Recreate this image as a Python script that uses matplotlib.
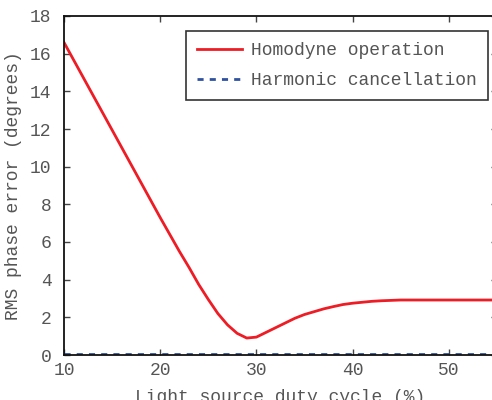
import matplotlib.pyplot as plt
import numpy as np

# duty cycle (%) and RMS phase error (degrees)
duty = np.arange(10, 56)
homodyne = np.array([16.6, 15.67, 14.74, 13.81, 12.88, 11.95, 11.02, 10.09, 9.16, 8.23,
                     7.3, 6.4, 5.5, 4.65, 3.75, 2.95, 2.2, 1.6, 1.15, 0.9,
                     0.95, 1.2, 1.45, 1.7, 1.95, 2.15, 2.3, 2.45, 2.57, 2.68,
                     2.75, 2.8, 2.85, 2.88, 2.9, 2.92, 2.92, 2.92, 2.92, 2.92,
                     2.92, 2.92, 2.92, 2.92, 2.92, 2.92])
harmonic = np.full(len(duty), 0.05)

plt.rcParams['font.family'] = ['Liberation Mono', 'DejaVu Sans Mono']
txt = '#555555'

fig = plt.figure(figsize=(4.92, 4.0), dpi=100)
ax = fig.add_axes([0.130, 0.1125, 0.880, 0.8475])

ax.plot(duty, homodyne, color='#ee1c25', lw=2, label='Homodyne operation')
ax.plot(duty, harmonic, color='#2f52a0', lw=2, ls=(0, (2.2, 2.2)), label='Harmonic cancellation')

ax.set_xlim(10, 55)
ax.set_ylim(0, 18)
ax.set_xticks([10, 20, 30, 40, 50])
ax.set_yticks(np.arange(0, 19, 2))
ax.tick_params(direction='in', length=4, width=1, color='#444444', labelcolor=txt,
               labelsize=13, top=True, right=True)
ax.tick_params(axis='y', pad=9)
ax.tick_params(axis='x', pad=5)
for s in ['left', 'bottom', 'top']:
    ax.spines[s].set_linewidth(1.3)
    ax.spines[s].set_color('#111111')

ax.set_xlabel('Light source duty cycle (%)', fontsize=13, color=txt, labelpad=7)
ax.set_ylabel('RMS phase error (degrees)', fontsize=13, color=txt, labelpad=6)

leg = ax.legend(loc='upper left', bbox_to_anchor=(186 / 492, 1 - 31 / 400),
                bbox_transform=fig.transFigure, borderaxespad=0, fancybox=False,
                edgecolor='black', fontsize=13, handlelength=2.5, labelspacing=0.73,
                borderpad=0.6, handletextpad=0.5)
leg.get_frame().set_linewidth(1.2)
for t in leg.get_texts():
    t.set_color(txt)

fig.savefig('out.png', dpi=100)
